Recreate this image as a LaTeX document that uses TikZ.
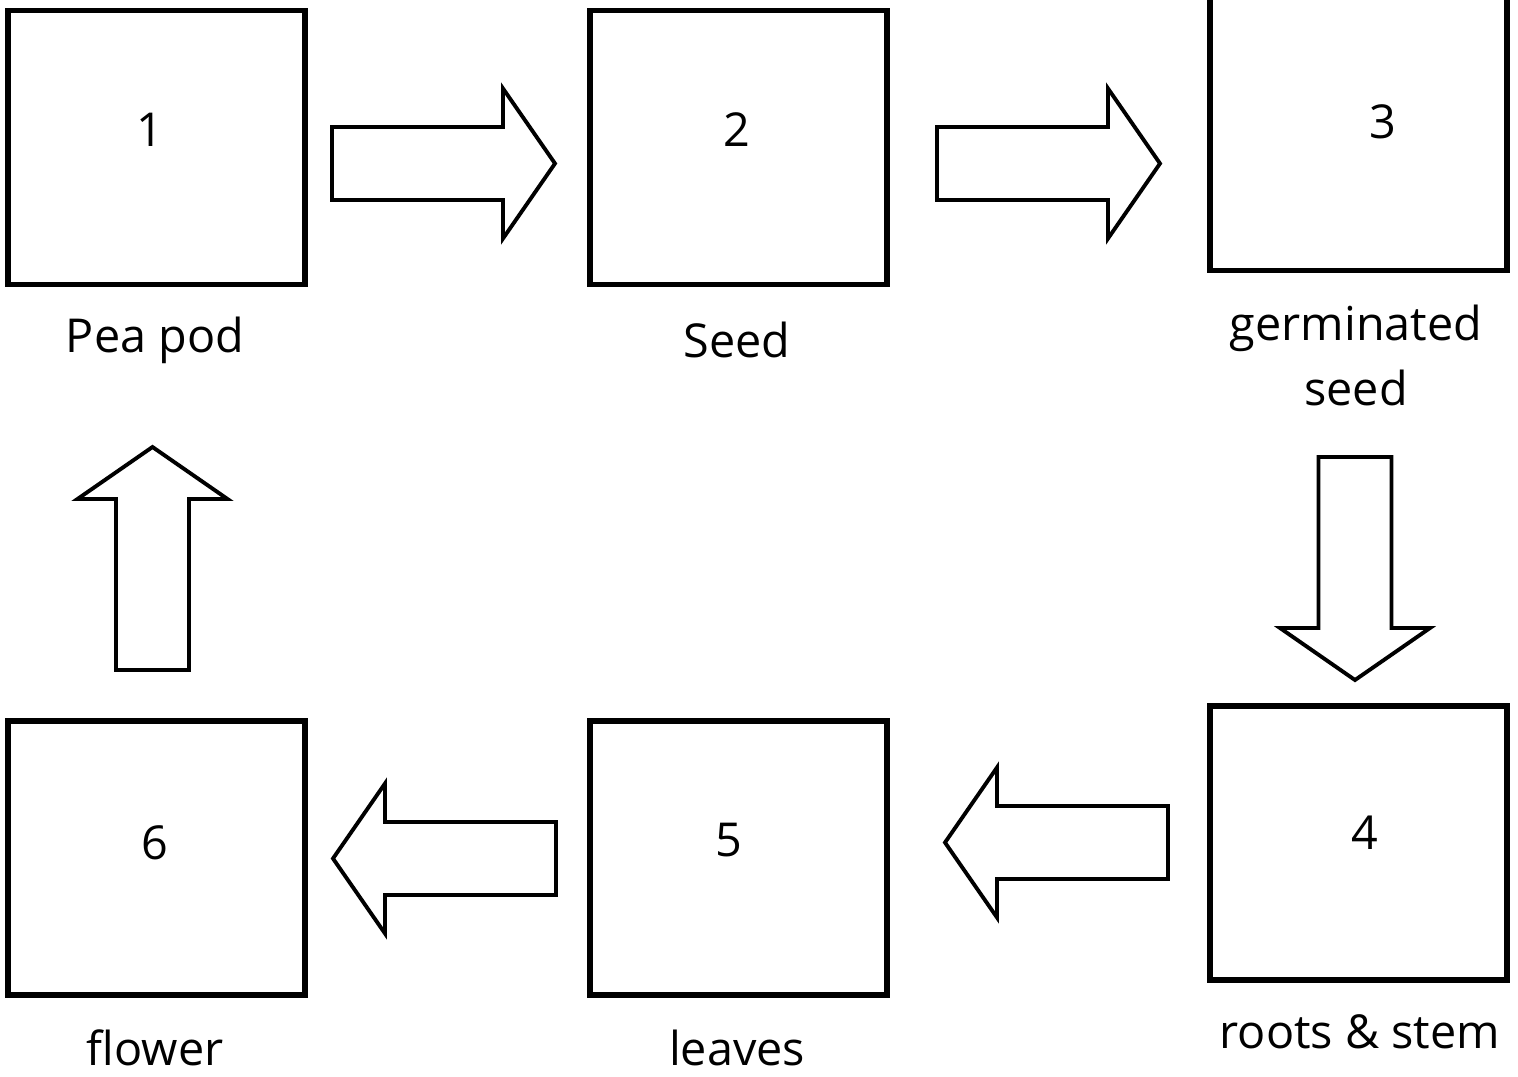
\documentclass[tikz,border=0pt]{standalone}
\usepackage{fontspec}
\setmainfont{Open Sans}
\usetikzlibrary{positioning}

\tikzset{
  stagebox/.style={draw, line width=1.5pt, inner sep=0pt, minimum width=2.97cm, minimum height=2.74cm},
  stagetext/.style={font=\fontsize{13.3}{18.5}\selectfont, align=center},
  blockarrow/.pic={
    \draw[line width=1.1pt, line join=miter]
      (0,-0.365) -- (1.71,-0.365) -- (1.71,-0.75) -- (2.23,0)
      -- (1.71,0.75) -- (1.71,0.365) -- (0,0.365) -- cycle;
  }
}

\begin{document}
\begin{tikzpicture}
    \useasboundingbox (0,0) rectangle (15.18,-10.76);
    \clip (0,0) rectangle (15.18,-10.76);

    % stages
    \node[stagebox] (box1) at (1.565,-1.475) {};
    \node[stagebox] (box2) at (7.385,-1.475) {};
    \node[stagebox] (box3) at (13.585,-1.335) {};
    \node[stagebox] (box4) at (13.585,-8.43) {};
    \node[stagebox] (box5) at (7.385,-8.58) {};
    \node[stagebox] (box6) at (1.565,-8.58) {};

    % numbers
    \node[stagetext] (num1) at (1.50,-1.30) {1};
    \node[stagetext] (num2) at (7.37,-1.30) {2};
    \node[stagetext] (num3) at (13.83,-1.22) {3};
    \node[stagetext] (num4) at (13.65,-8.33) {4};
    \node[stagetext] (num5) at (7.29,-8.40) {5};
    \node[stagetext] (num6) at (1.55,-8.43) {6};

    % names
    \node[stagetext] (name1) at (1.55,-3.40) {Pea pod};
    \node[stagetext] (name2) at (7.37,-3.40) {Seed};
    \node[stagetext] (name3) at (13.56,-3.55) {germinated\\seed};
    \node[stagetext] (name4) at (13.60,-10.32) {roots \& stem};
    \node[stagetext] (name5) at (7.37,-10.48) {leaves};
    \node[stagetext] (name6) at (1.55,-10.48) {flower};

    % arrows between stages
    \pic (arr12) at (3.32,-1.635) {blockarrow};
    \pic (arr23) at (9.37,-1.635) {blockarrow};
    \pic[rotate=-90] (arr34) at (13.55,-4.57) {blockarrow};
    \pic[rotate=180] (arr45) at (11.68,-8.425) {blockarrow};
    \pic[rotate=180] (arr56) at (5.56,-8.585) {blockarrow};
    \pic[rotate=90] (arr61) at (1.525,-6.70) {blockarrow};
\end{tikzpicture}
\end{document}
